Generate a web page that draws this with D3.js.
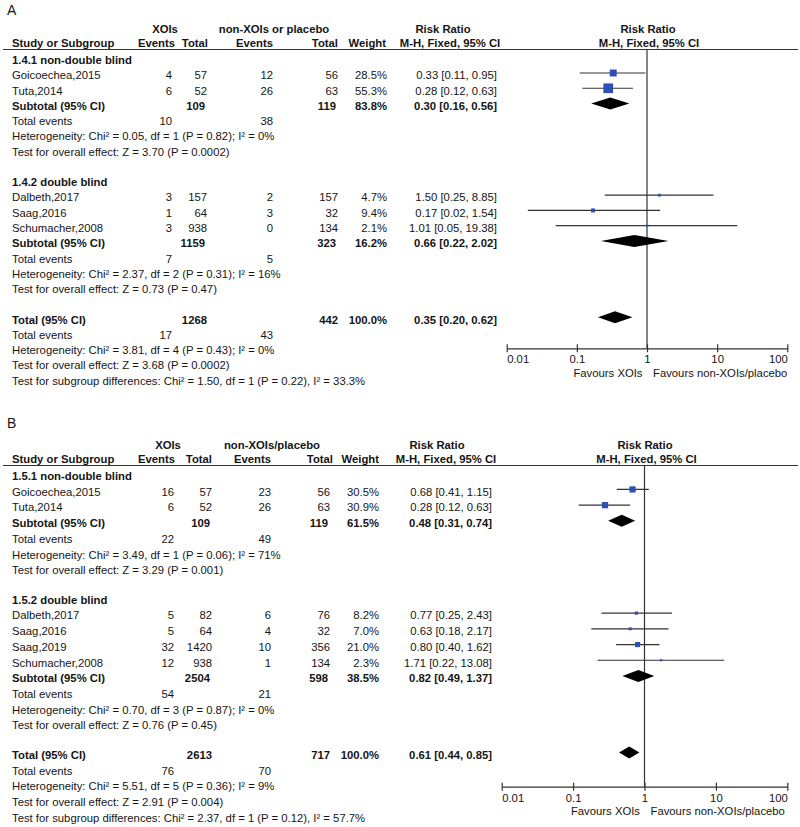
<!DOCTYPE html>
<html><head><meta charset="utf-8">
<script src="https://cdn.jsdelivr.net/npm/d3@7"></script>
<style>
body{margin:0;background:#fff;}
svg text{font-family:"Liberation Sans",Arial,sans-serif;font-size:11.3px;fill:#151515;}
</style></head><body>
<svg id="chart" width="800" height="827"></svg>
<script>
// ---------- Panel A data ----------
const aStudies   = ["Goicoechea,2015","Tuta,2014","Dalbeth,2017","Saag,2016","Schumacher,2008"];
const aGroupOf   = [0,0,1,1,1];
const aEventsXOI = [4,6,3,1,3];
const aTotalXOI  = [57,52,157,64,938];
const aEventsCtl = [12,26,2,3,0];
const aTotalCtl  = [56,63,157,32,134];
const aWeight    = [28.5,55.3,4.7,9.4,2.1];
const aRR        = [0.33,0.28,1.50,0.17,1.01];
const aLow       = [0.11,0.12,0.25,0.02,0.05];
const aHigh      = [0.95,0.63,8.85,1.54,19.38];
const aGroups        = ["1.4.1 non-double blind","1.4.2 double blind"];
const aGroupTotXOI   = [109,1159];
const aGroupTotCtl   = [119,323];
const aGroupWeight   = [83.8,16.2];
const aGroupRR       = [0.30,0.66];
const aGroupLow      = [0.16,0.22];
const aGroupHigh     = [0.56,2.02];
const aGroupEvXOI    = [10,7];
const aGroupEvCtl    = [38,5];
const aGroupHet      = ["Heterogeneity: Chi² = 0.05, df = 1 (P = 0.82); I² = 0%","Heterogeneity: Chi² = 2.37, df = 2 (P = 0.31); I² = 16%"];
const aGroupTest     = ["Test for overall effect: Z = 3.70 (P = 0.0002)","Test for overall effect: Z = 0.73 (P = 0.47)"];
const aOverallTotals = [1268,442];
const aOverallEff    = [0.35,0.20,0.62];
const aOverallEvents = [17,43];
const aOverallTexts  = ["Heterogeneity: Chi² = 3.81, df = 4 (P = 0.43); I² = 0%","Test for overall effect: Z = 3.68 (P = 0.0002)","Test for subgroup differences: Chi² = 1.50, df = 1 (P = 0.22), I² = 33.3%"];
const aControlName   = "non-XOIs or placebo";

// ---------- Panel B data ----------
const bStudies   = ["Goicoechea,2015","Tuta,2014","Dalbeth,2017","Saag,2016","Saag,2019","Schumacher,2008"];
const bGroupOf   = [0,0,1,1,1,1];
const bEventsXOI = [16,6,5,5,32,12];
const bTotalXOI  = [57,52,82,64,1420,938];
const bEventsCtl = [23,26,6,4,10,1];
const bTotalCtl  = [56,63,76,32,356,134];
const bWeight    = [30.5,30.9,8.2,7.0,21.0,2.3];
const bRR        = [0.68,0.28,0.77,0.63,0.80,1.71];
const bLow       = [0.41,0.12,0.25,0.18,0.40,0.22];
const bHigh      = [1.15,0.63,2.43,2.17,1.62,13.08];
const bGroups        = ["1.5.1 non-double blind","1.5.2 double blind"];
const bGroupTotXOI   = [109,2504];
const bGroupTotCtl   = [119,598];
const bGroupWeight   = [61.5,38.5];
const bGroupRR       = [0.48,0.82];
const bGroupLow      = [0.31,0.49];
const bGroupHigh     = [0.74,1.37];
const bGroupEvXOI    = [22,54];
const bGroupEvCtl    = [49,21];
const bGroupHet      = ["Heterogeneity: Chi² = 3.49, df = 1 (P = 0.06); I² = 71%","Heterogeneity: Chi² = 0.70, df = 3 (P = 0.87); I² = 0%"];
const bGroupTest     = ["Test for overall effect: Z = 3.29 (P = 0.001)","Test for overall effect: Z = 0.76 (P = 0.45)"];
const bOverallTotals = [2613,717];
const bOverallEff    = [0.61,0.44,0.85];
const bOverallEvents = [76,70];
const bOverallTexts  = ["Heterogeneity: Chi² = 5.51, df = 5 (P = 0.36); I² = 9%","Test for overall effect: Z = 2.91 (P = 0.004)","Test for subgroup differences: Chi² = 2.37, df = 1 (P = 0.12), I² = 57.7%"];
const bControlName   = "non-XOIs/placebo";

// ---------- Axis ----------
const tickValues = [0.01,0.1,1,10,100];
const tickLabels = ["0.01","0.1","1","10","100"];
const favLeft = "Favours XOIs";
const favRight = "Favours non-XOIs/placebo";

const dataA = {label:"A", ctl:aControlName, studies:aStudies, groupOf:aGroupOf, evX:aEventsXOI, totX:aTotalXOI, evC:aEventsCtl, totC:aTotalCtl, w:aWeight, rr:aRR, lo:aLow, hi:aHigh,
  groups:aGroups, gTotX:aGroupTotXOI, gTotC:aGroupTotCtl, gW:aGroupWeight, gRR:aGroupRR, gLo:aGroupLow, gHi:aGroupHigh, gEvX:aGroupEvXOI, gEvC:aGroupEvCtl, gHet:aGroupHet, gTest:aGroupTest,
  oTot:aOverallTotals, oEff:aOverallEff, oEv:aOverallEvents, oTexts:aOverallTexts};
const dataB = {label:"B", ctl:bControlName, studies:bStudies, groupOf:bGroupOf, evX:bEventsXOI, totX:bTotalXOI, evC:bEventsCtl, totC:bTotalCtl, w:bWeight, rr:bRR, lo:bLow, hi:bHigh,
  groups:bGroups, gTotX:bGroupTotXOI, gTotC:bGroupTotCtl, gW:bGroupWeight, gRR:bGroupRR, gLo:bGroupLow, gHi:bGroupHigh, gEvX:bGroupEvXOI, gEvC:bGroupEvCtl, gHet:bGroupHet, gTest:bGroupTest,
  oTot:bOverallTotals, oEff:bOverallEff, oEv:bOverallEvents, oTexts:bOverallTexts};

const layoutA = {labelY:15, hdr1Y:33, hdr2Y:47, top:64, L:15.28, G:15.2, axisY:348.3,
  col:{evX:172, totX:207, evC:273, totC:338, w:387, rr:497},
  hcol:{evX:175, totX:208, evC:273, totC:338, w:386},
  xoiC:165, ctlC:274, rrH1:443, rrH2:450, plH1:648, plH2:649, range:[506.7,787.3], k:1.3};
const layoutB = {labelY:428, hdr1Y:449, hdr2Y:463, top:480, L:15.72, G:13.65, axisY:786.7,
  col:{evX:174, totX:212, evC:271, totC:330, w:379, rr:492},
  hcol:{evX:175, totX:212, evC:271, totC:333, w:379},
  xoiC:168, ctlC:272, rrH1:437, rrH2:446, plH1:645, plH2:646.5, range:[501.7,787.3], k:1.12};

const svg = d3.select("#chart");
const LINE = "#333", BLUE = "#2f4fb5";
const fmtCI = (r,l,h)=> `${r.toFixed(2)} [${l.toFixed(2)}, ${h.toFixed(2)}]`;

function panel(D, C){
  const g = svg.append("g");
  const txt = (x,y,s,anchor,bold,size)=> g.append("text").attr("x",x).attr("y",y).text(s)
      .attr("text-anchor",anchor||"start").style("font-weight",bold?"bold":"normal").style("font-size",size?size+"px":null);
  const x = d3.scaleLog().domain([0.01,100]).range(C.range);
  const off = 6.3;

  txt(7, C.labelY, D.label, "start", false, 14);
  txt(C.xoiC, C.hdr1Y, "XOIs", "middle", true);
  txt(C.ctlC, C.hdr1Y, D.ctl, "middle", true);
  txt(C.rrH1, C.hdr1Y, "Risk Ratio", "middle", true);
  txt(C.plH1, C.hdr1Y, "Risk Ratio", "middle", true);
  txt(12, C.hdr2Y, "Study or Subgroup", "start", true);
  txt(C.hcol.evX, C.hdr2Y, "Events", "end", true);
  txt(C.hcol.totX, C.hdr2Y, "Total", "end", true);
  txt(C.hcol.evC, C.hdr2Y, "Events", "end", true);
  txt(C.hcol.totC, C.hdr2Y, "Total", "end", true);
  txt(C.hcol.w, C.hdr2Y, "Weight", "end", true);
  txt(C.rrH2, C.hdr2Y, "M-H, Fixed, 95% CI", "middle", true);
  txt(C.plH2, C.hdr2Y, "M-H, Fixed, 95% CI", "middle", true);
  const hlY = C.hdr2Y + 2.5;
  g.append("line").attr("x1",3).attr("x2",798).attr("y1",hlY).attr("y2",hlY).attr("stroke",LINE).attr("stroke-width",1.2);
  g.append("line").attr("x1",x(1)).attr("x2",x(1)).attr("y1",hlY).attr("y2",C.axisY).attr("stroke",LINE).attr("stroke-width",1.2);

  let line = 0, gaps = 0;
  const yOf = ()=> C.top + line*C.L + gaps*C.G;
  const diamond = (cy, r, l, h)=>{
    g.append("path").attr("d", `M${x(l)},${cy} L${x(r)},${cy-6} L${x(h)},${cy} L${x(r)},${cy+6} Z`).attr("fill","#000");
  };

  D.groups.forEach((gn, gi)=>{
    if (gi>0) gaps++;
    let y = yOf();
    txt(12, y, gn, "start", true); line++;
    D.studies.forEach((s, i)=>{
      if (D.groupOf[i]!==gi) return;
      y = yOf();
      txt(12, y, s);
      txt(C.col.evX, y, D.evX[i], "end");
      txt(C.col.totX, y, D.totX[i], "end");
      txt(C.col.evC, y, D.evC[i], "end");
      txt(C.col.totC, y, D.totC[i], "end");
      txt(C.col.w, y, D.w[i].toFixed(1)+"%", "end");
      txt(C.col.rr, y, fmtCI(D.rr[i],D.lo[i],D.hi[i]), "end");
      const cy = y - off;
      g.append("line").attr("x1",x(D.lo[i])).attr("x2",x(D.hi[i])).attr("y1",cy).attr("y2",cy).attr("stroke",LINE).attr("stroke-width",1.2);
      const sz = Math.max(2.2, C.k*Math.sqrt(D.w[i]));
      g.append("rect").attr("x",x(D.rr[i])-sz/2).attr("y",cy-sz/2).attr("width",sz).attr("height",sz).attr("fill",BLUE);
      line++;
    });
    y = yOf();
    txt(12, y, "Subtotal (95% CI)", "start", true);
    txt(C.col.totX-2, y, D.gTotX[gi], "end", true);
    txt(C.col.totC-2, y, D.gTotC[gi], "end", true);
    txt(C.col.w, y, D.gW[gi].toFixed(1)+"%", "end", true);
    txt(C.col.rr, y, fmtCI(D.gRR[gi],D.gLo[gi],D.gHi[gi]), "end", true);
    diamond(y-off, D.gRR[gi], D.gLo[gi], D.gHi[gi]);
    line++;
    y = yOf();
    txt(12, y, "Total events");
    txt(C.col.evX, y, D.gEvX[gi], "end");
    txt(C.col.evC, y, D.gEvC[gi], "end");
    line++;
    txt(12, yOf(), D.gHet[gi]); line++;
    txt(12, yOf(), D.gTest[gi]); line++;
  });
  gaps++;
  let y = yOf();
  txt(12, y, "Total (95% CI)", "start", true);
  txt(C.col.totX, y, D.oTot[0], "end", true);
  txt(C.col.totC, y, D.oTot[1], "end", true);
  txt(C.col.w, y, "100.0%", "end", true);
  txt(C.col.rr, y, fmtCI(D.oEff[0],D.oEff[1],D.oEff[2]), "end", true);
  diamond(y-off, D.oEff[0], D.oEff[1], D.oEff[2]);
  line++;
  y = yOf();
  txt(12, y, "Total events");
  txt(C.col.evX, y, D.oEv[0], "end");
  txt(C.col.evC, y, D.oEv[1], "end");
  line++;
  D.oTexts.forEach(t=>{ txt(12, yOf(), t); line++; });

  const ax = g.append("g").attr("transform",`translate(0,${C.axisY})`)
    .call(d3.axisBottom(x).tickValues(tickValues).tickSizeOuter(0).tickSizeInner(4).tickFormat((d,i)=>tickLabels[i]));
  ax.select(".domain").attr("stroke",LINE).attr("stroke-width",1.2);
  ax.selectAll(".tick line").attr("y1",-4).attr("y2",4).attr("stroke",LINE).attr("stroke-width",1.2);
  const last = tickValues.length-1;
  ax.selectAll(".tick text").attr("y",15).attr("dy",null)
    .attr("text-anchor",(d,i)=> i===0 ? "start" : (i===last ? "end" : "middle"))
    .style("font-family",'"Liberation Sans",Arial,sans-serif').style("font-size","11.3px").attr("fill","#151515");
  txt(x(1)-4.5, C.axisY+28.5, favLeft, "end");
  txt(x(1)+6, C.axisY+28.5, favRight, "start");
}
panel(dataA, layoutA);
panel(dataB, layoutB);
</script>
</body></html>
